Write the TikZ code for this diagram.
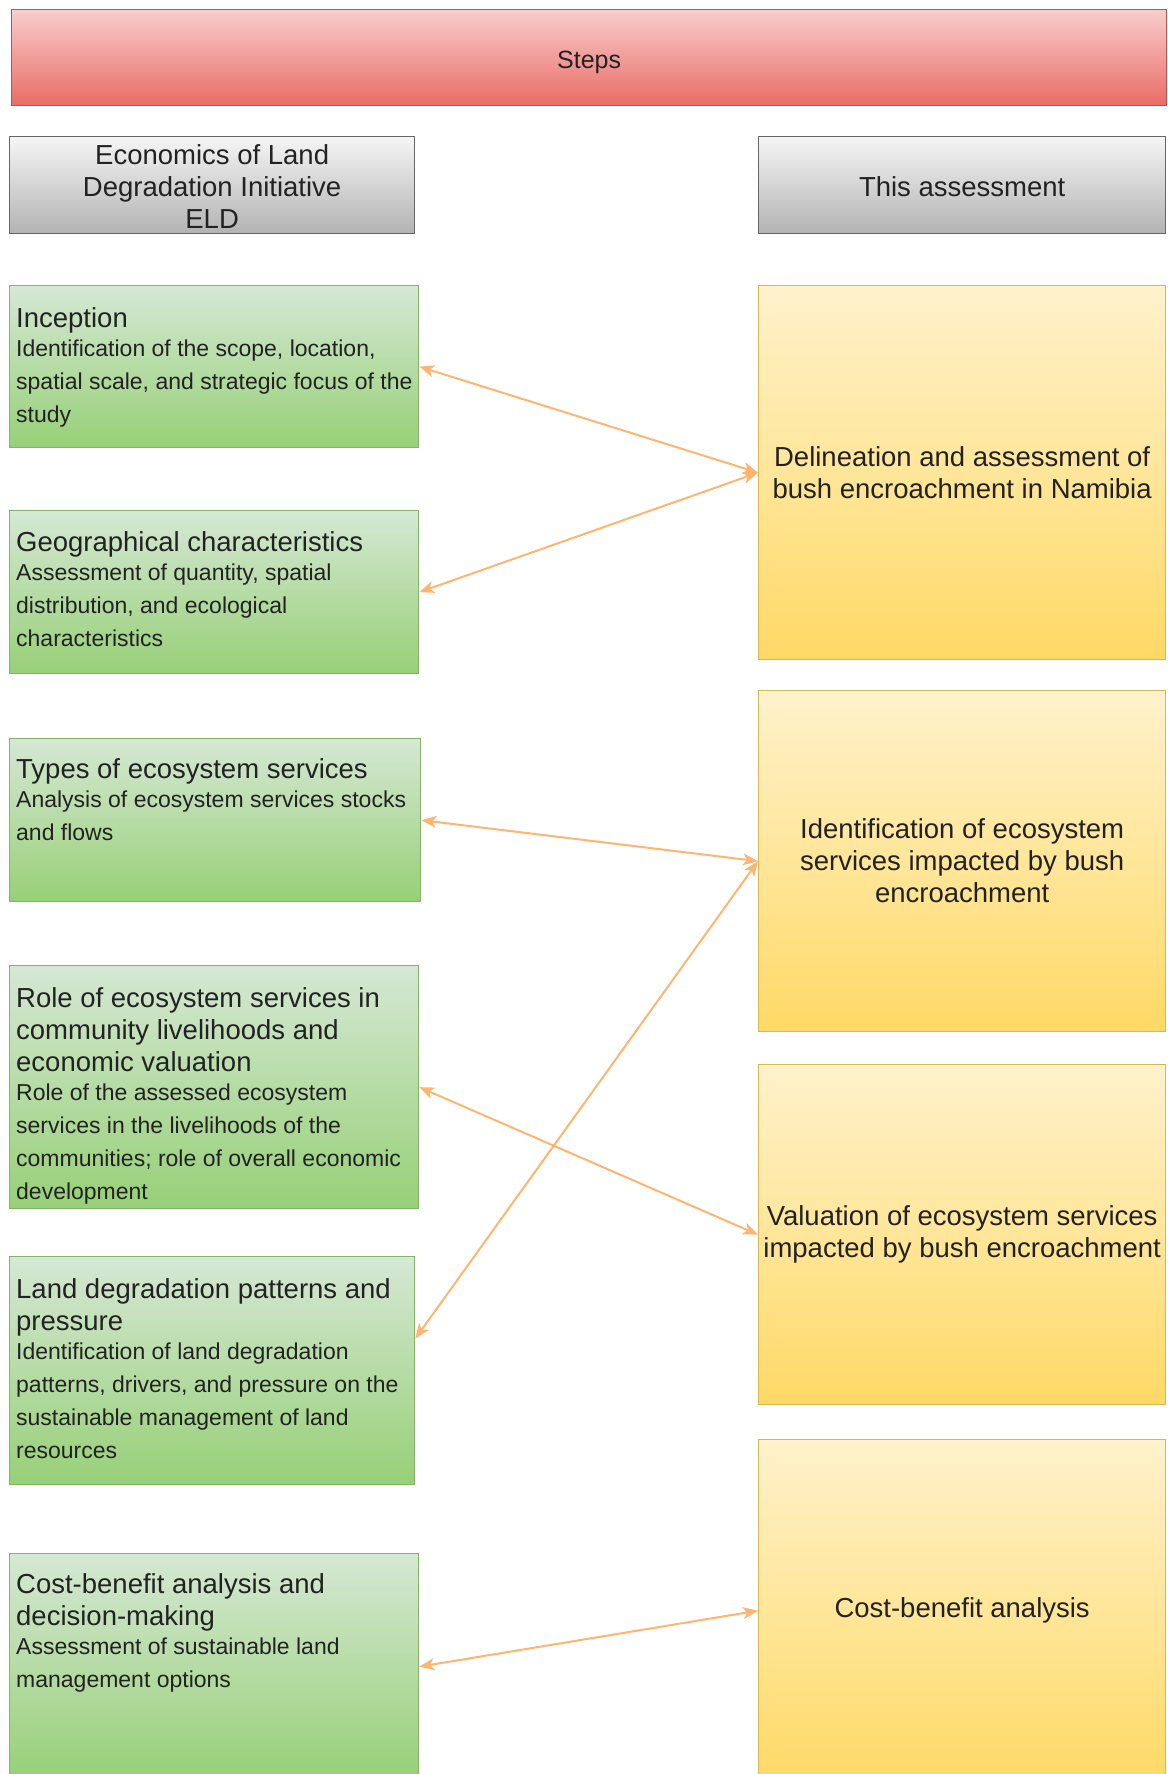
\documentclass[tikz,border=0pt]{standalone}
\usepackage{fontspec}
\setmainfont{Liberation Sans}
\usetikzlibrary{arrows.meta,calc}

\definecolor{redtop}{HTML}{F8CECC}
\definecolor{redbot}{HTML}{EA6B66}
\definecolor{redline}{HTML}{B85450}
\definecolor{greytop}{HTML}{F5F5F5}
\definecolor{greybot}{HTML}{B3B3B3}
\definecolor{greyline}{HTML}{666666}
\definecolor{greentop}{HTML}{D5E8D4}
\definecolor{greenbot}{HTML}{97D077}
\definecolor{greenline}{HTML}{82B366}
\definecolor{yeltop}{HTML}{FFF2CC}
\definecolor{yelbot}{HTML}{FFD966}
\definecolor{yelline}{HTML}{D6B656}
\definecolor{linkc}{HTML}{FFB570}
\definecolor{textc}{HTML}{222222}

% title and body sizes used in the step boxes (word spaces follow the font)
\newcommand\ttl{\fontsize{27.5}{32}\selectfont\spaceskip=0pt\xspaceskip=0pt\relax}
\newcommand\bdy{\fontsize{23}{33}\selectfont\spaceskip=0pt\xspaceskip=0pt\relax}
\newcommand\gap{\par\vspace{-4pt}}

\begin{document}
\begin{tikzpicture}[x=1pt,y=-1pt,
  box/.style={draw, line width=1.3pt, inner sep=0pt, anchor=north west},
  redbox/.style={box, draw=redline, top color=redtop, bottom color=redbot},
  greybox/.style={box, draw=greyline, top color=greytop, bottom color=greybot},
  greenbox/.style={box, draw=greenline, top color=greentop, bottom color=greenbot},
  yelbox/.style={box, draw=yelline, top color=yeltop, bottom color=yelbot},
  steptext/.style={anchor=north west, inner sep=0pt, text width=440pt,
    align=left, text=textc},
  midtext/.style={inner sep=0pt, align=center, text=textc, font=\ttl},
  link/.style={draw=linkc, line width=2pt,
    {Stealth[length=15pt,width=12pt,inset=4pt]}-{Stealth[length=15pt,width=12pt,inset=4pt]}}
  ]
\clip (0,0) rectangle (1167,1774);
\useasboundingbox (0,0) rectangle (1167,1774);

% header bar
\node[redbox, minimum width=1155pt, minimum height=96pt] (steps) at (11,9) {};
\node[midtext, font=\fontsize{25}{30}\selectfont] (steps-t) at ($(steps.center)+(0,5)$) {Steps};

% column headers
\node[greybox, minimum width=405pt, minimum height=97pt] (eld) at (9,136) {};
\node[midtext] (eld-t) at ($(eld.center)+(0,1)$) {Economics of Land\\Degradation Initiative\\ELD};
\node[greybox, minimum width=407pt, minimum height=97pt] (this) at (758,136) {};
\node[midtext] (this-t) at ($(this.center)+(0,2)$) {This assessment};

% ELD steps
\node[greenbox, minimum width=409pt, minimum height=162pt] (inc) at (9,285) {};
\node[steptext] (inc-t) at ($(inc.north west)+(7,22)$)
  {\ttl Inception\gap\bdy Identification of the scope, location,\\spatial scale, and strategic focus of the\\study\par};

\node[greenbox, minimum width=409pt, minimum height=163pt] (geo) at (9,510) {};
\node[steptext] (geo-t) at ($(geo.north west)+(7,21)$)
  {\ttl Geographical characteristics\gap\bdy Assessment of quantity, spatial\\distribution, and ecological\\characteristics\par};

\node[greenbox, minimum width=411pt, minimum height=163pt] (types) at (9,738) {};
\node[steptext] (types-t) at ($(types.north west)+(7,20)$)
  {\ttl Types of ecosystem services\gap\bdy Analysis of ecosystem services stocks\\and flows\par};

\node[greenbox, minimum width=409pt, minimum height=243pt] (role) at (9,965) {};
\node[steptext] (role-t) at ($(role.north west)+(7,22)$)
  {\ttl Role of ecosystem services in\\community livelihoods and\\economic valuation\gap\bdy Role of the assessed ecosystem\\services in the livelihoods of the\\communities; role of overall economic\\development\par};

\node[greenbox, minimum width=405pt, minimum height=228pt] (land) at (9,1256) {};
\node[steptext] (land-t) at ($(land.north west)+(7,22)$)
  {\ttl Land degradation patterns and\\pressure\gap\bdy Identification of land degradation\\patterns, drivers, and pressure on the\\sustainable management of land\\resources\par};

\node[greenbox, minimum width=409pt, minimum height=226pt] (cba) at (9,1553) {};
\node[steptext] (cba-t) at ($(cba.north west)+(7,20)$)
  {\ttl Cost-benefit analysis and\\decision-making\gap\bdy Assessment of sustainable land\\management options\par};

% steps of this assessment
\node[yelbox, minimum width=407pt, minimum height=374pt] (y1) at (758,285) {};
\node[midtext] (y1-t) at (y1.center) {Delineation and assessment of\\bush encroachment in Namibia};
\node[yelbox, minimum width=407pt, minimum height=341pt] (y2) at (758,690) {};
\node[midtext] (y2-t) at (y2.center) {Identification of ecosystem\\services impacted by bush\\encroachment};
\node[yelbox, minimum width=407pt, minimum height=340pt] (y3) at (758,1064) {};
\node[midtext] (y3-t) at (y3.center) {Valuation of ecosystem services\\impacted by bush encroachment};
\node[yelbox, minimum width=407pt, minimum height=342pt] (y4) at (758,1439) {};
\node[midtext] (y4-t) at (y4.center) {Cost-benefit analysis};

% correspondences
\coordinate (land-e) at ($(land.north east)!0.36!(land.south east)$);
\draw[link] (inc.east) -- (y1.west);
\draw[link] (geo.east) -- (y1.west);
\draw[link] (types.east) -- (y2.west);
\draw[link] (land-e) -- (y2.west);
\draw[link] (role.east) -- (y3.west);
\draw[link] (cba.east) -- (y4.west);
\end{tikzpicture}
\end{document}
